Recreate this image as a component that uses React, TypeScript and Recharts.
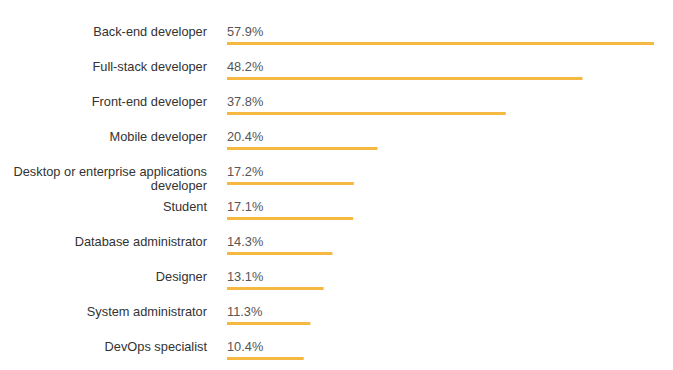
import React from 'react';
import { BarChart, Bar, XAxis, YAxis, LabelList } from 'recharts';

const roles = [
  'Back-end developer',
  'Full-stack developer',
  'Front-end developer',
  'Mobile developer',
  'Desktop or enterprise applications developer',
  'Student',
  'Database administrator',
  'Designer',
  'System administrator',
  'DevOps specialist',
];

const shares = [57.9, 48.2, 37.8, 20.4, 17.2, 17.1, 14.3, 13.1, 11.3, 10.4];

const data = roles.map((role, i) => ({ role, share: shares[i] }));

const BAR_COLOR = '#F5B942';
const FONT = '"Liberation Sans", Arial, sans-serif';
const FONT_SIZE = 12.8;

// wrap long labels at ~34 chars
function wrap(text: string, max = 34): string[] {
  const words = text.split(' ');
  const lines: string[] = [];
  let cur = '';
  words.forEach((w) => {
    const next = cur ? cur + ' ' + w : w;
    if (next.length > max && cur) {
      lines.push(cur);
      cur = w;
    } else {
      cur = next;
    }
  });
  if (cur) lines.push(cur);
  return lines;
}

const RoleTick = (props: any) => {
  const { x, y, payload } = props;
  const lines = wrap(payload.value);
  return (
    <text x={x} y={y} textAnchor="end" fontSize={FONT_SIZE} fill="#333" fontFamily={FONT}>
      {lines.map((l, i) => (
        <tspan key={i} x={x} dy={i === 0 ? 4 : 14}>
          {l}
        </tspan>
      ))}
    </text>
  );
};

// thin bar drawn below the band center, under the value label
const ThinBar = (props: any) => {
  const { x, y, width, height, fill } = props;
  return <rect x={x} y={y + 12} width={width} height={height} fill={fill} />;
};

const ValueLabel = (props: any) => {
  const { x, y, height, value } = props;
  return (
    <text x={x} y={y + height / 2 + 4} fontSize={FONT_SIZE} fill="#555" fontFamily={FONT}>
      {value.toFixed(1)}%
    </text>
  );
};

export default function App() {
  return (
    <div style={{ width: 665, height: 362, background: '#fff' }}>
      <BarChart
        width={665}
        height={362}
        data={data}
        layout="vertical"
        margin={{ top: 6, right: 19, bottom: 6, left: 0 }}
        barCategoryGap={0}
      >
        <XAxis type="number" hide domain={[0, 57.9]} />
        <YAxis
          type="category"
          dataKey="role"
          width={219}
          axisLine={false}
          tickLine={false}
          tickSize={0}
          tickMargin={20}
          tick={<RoleTick />}
          interval={0}
        />
        <Bar dataKey="share" fill={BAR_COLOR} barSize={3} shape={<ThinBar />} isAnimationActive={false}>
          <LabelList dataKey="share" content={<ValueLabel />} />
        </Bar>
      </BarChart>
    </div>
  );
}
